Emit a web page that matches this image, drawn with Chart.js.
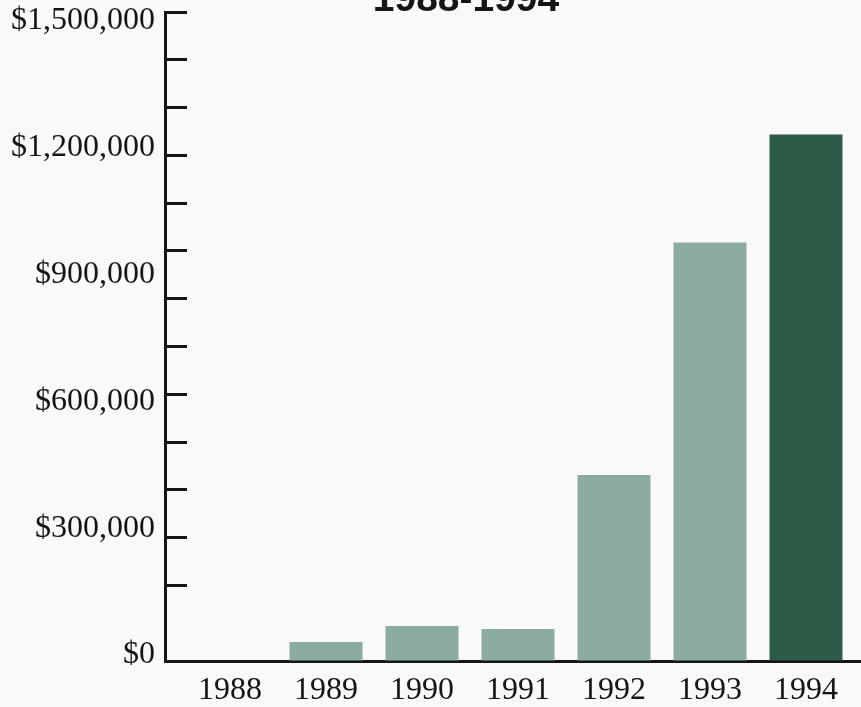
<!DOCTYPE html>
<html lang="en">
<head>
<meta charset="UTF-8">
<title>Revenue 1988-1994</title>
<script src="https://cdn.jsdelivr.net/npm/chart.js"></script>
<style>
    html, body { margin: 0; padding: 0; background: #f9f9f7; overflow: hidden; }
    canvas { display: block; }
</style>
</head>
<body>
<canvas id="revenueChart" width="861" height="707"></canvas>
<script>
    // data
    const years = [1988, 1989, 1990, 1991, 1992, 1993, 1994];
    const revenue = [0, 44000, 81000, 74000, 430000, 967000, 1217000];
    const yTicks = [0, 300000, 600000, 900000, 1200000, 1500000];
    // small tick marks on the axis (they don't line up with the labels in the original)
    const minorTickStep = 110450;
    const minorTickCount = 13;

    const lightGreen = '#8cab9f';
    const darkGreen = '#2c5b48';
    const ink = '#151515';

    // title is cut off at the top of the page, draw it by hand
    const titlePlugin = {
        id: 'cutTitle',
        afterDraw(chart) {
            const ctx = chart.ctx;
            ctx.save();
            ctx.font = 'bold 39px "Liberation Sans", Arial, sans-serif';
            ctx.fillStyle = ink;
            ctx.textAlign = 'center';
            ctx.textBaseline = 'alphabetic';
            ctx.fillText('1988-1994', 466, chart.chartArea.top - 1);
            ctx.restore();
        }
    };

    const serif = { family: '"Liberation Serif", "Times New Roman", serif', size: 32 };

    // no extra room for half labels at the ends
    function noEdgePadding(scale) {
        scale.paddingTop = 0;
        scale.paddingBottom = 0;
        scale.paddingLeft = 0;
        scale.paddingRight = 0;
    }

    new Chart(document.getElementById('revenueChart').getContext('2d'), {
        type: 'bar',
        data: {
            datasets: [{
                data: years.map((yr, i) => ({ x: yr, y: revenue[i] })),
                backgroundColor: years.map((yr, i) => i === years.length - 1 ? darkGreen : lightGreen),
                borderWidth: 0,
                categoryPercentage: 1,
                barPercentage: 0.76
            }]
        },
        options: {
            responsive: false,
            animation: false,
            layout: { padding: { top: 12, left: 0, right: 0, bottom: 0 } },
            plugins: { legend: { display: false }, tooltip: { enabled: false }, title: { display: false } },
            scales: {
                x: {
                    type: 'linear',
                    offset: false,
                    min: 1987.323,
                    max: 1994.573,
                    grid: { offset: false, drawOnChartArea: false, drawTicks: false },
                    border: { display: true, color: ink, width: 3 },
                    afterBuildTicks: axis => { axis.ticks = years.map(v => ({ value: v })); },
                    afterFit: scale => { scale.height = 46; noEdgePadding(scale); },
                    ticks: {
                        autoSkip: false,
                        maxRotation: 0,
                        padding: 10,
                        color: ink,
                        font: serif,
                        callback: v => String(v)
                    }
                },
                // the bars' own axis: just the vertical line
                y: {
                    position: 'left',
                    weight: 1,
                    min: 0,
                    max: 1500000,
                    grid: { drawOnChartArea: false, drawTicks: false },
                    border: { display: true, color: ink, width: 3 },
                    afterFit: scale => { scale.width = 0; noEdgePadding(scale); },
                    ticks: { display: false }
                },
                // dollar labels, printed a little more spread out than the bar scale
                yLabels: {
                    position: 'left',
                    weight: 2,
                    display: true,
                    min: -14200,
                    max: 1521300,
                    grid: { drawOnChartArea: false, drawTicks: false },
                    border: { display: false },
                    afterBuildTicks: axis => { axis.ticks = yTicks.map(v => ({ value: v })); },
                    afterFit: scale => { scale.width = 165; noEdgePadding(scale); },
                    ticks: {
                        padding: 10,
                        color: ink,
                        font: serif,
                        callback: v => '$' + v.toLocaleString('en-US')
                    }
                },
                yMinor: {
                    position: 'left',
                    weight: 0,
                    display: true,
                    min: 0,
                    max: 1500000,
                    grid: { drawOnChartArea: false, drawTicks: true, tickLength: -22, lineWidth: 3, color: ink },
                    border: { display: false },
                    afterBuildTicks: axis => {
                        const t = [];
                        for (let k = 0; k < minorTickCount; k++) t.push({ value: 1500000 - k * minorTickStep });
                        axis.ticks = t;
                    },
                    afterFit: scale => { scale.width = 0; noEdgePadding(scale); },
                    ticks: { display: false }
                }
            }
        },
        plugins: [titlePlugin]
    });
</script>
</body>
</html>
